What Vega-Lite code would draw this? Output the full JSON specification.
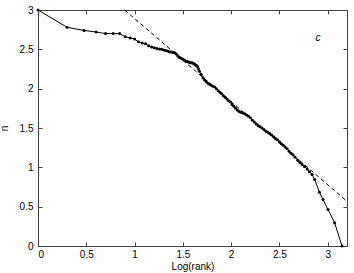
{
  "$schema": "https://vega.github.io/schema/vega-lite/v6.json",
  "width": 309,
  "height": 236,
  "autosize": "none",
  "padding": {"left": 38, "top": 10, "right": 7, "bottom": 27},
  "background": "white",
  "config": {
    "font": "Liberation Sans",
    "view": {"stroke": "#444", "strokeWidth": 1},
    "axis": {"grid": false, "domain": false, "tickColor": "#444", "tickSize": -4, "labelFont": "Liberation Sans", "labelFontSize": 10, "labelColor": "black", "titleFont": "Liberation Sans", "titleFontSize": 10, "titleFontWeight": "normal", "titleColor": "black", "format": "~g"}
  },
  "datasets": {
    "curve": [
      {"x": 0, "n": 3.0}, {"x": 0.301, "n": 2.78}, {"x": 0.477, "n": 2.74}, {"x": 0.602, "n": 2.72},
      {"x": 0.699, "n": 2.70}, {"x": 0.778, "n": 2.70}, {"x": 0.845, "n": 2.70}, {"x": 0.903, "n": 2.66},
      {"x": 0.954, "n": 2.645}, {"x": 1.0, "n": 2.63}, {"x": 1.041, "n": 2.595}, {"x": 1.079, "n": 2.58},
      {"x": 1.114, "n": 2.57}, {"x": 1.146, "n": 2.545}, {"x": 1.176, "n": 2.53}, {"x": 1.204, "n": 2.52},
      {"x": 1.23, "n": 2.51}, {"x": 1.255, "n": 2.505}, {"x": 1.279, "n": 2.5}, {"x": 1.301, "n": 2.49},
      {"x": 1.322, "n": 2.485}, {"x": 1.342, "n": 2.48}, {"x": 1.362, "n": 2.47}, {"x": 1.38, "n": 2.465},
      {"x": 1.398, "n": 2.46}, {"x": 1.415, "n": 2.455}, {"x": 1.431, "n": 2.44}, {"x": 1.447, "n": 2.42},
      {"x": 1.462, "n": 2.4}, {"x": 1.477, "n": 2.39}, {"x": 1.491, "n": 2.38}, {"x": 1.505, "n": 2.37},
      {"x": 1.519, "n": 2.36}, {"x": 1.531, "n": 2.35}, {"x": 1.544, "n": 2.345}, {"x": 1.556, "n": 2.34},
      {"x": 1.568, "n": 2.335}, {"x": 1.58, "n": 2.33}, {"x": 1.591, "n": 2.33}, {"x": 1.602, "n": 2.325},
      {"x": 1.613, "n": 2.32}, {"x": 1.623, "n": 2.31}, {"x": 1.633, "n": 2.3}, {"x": 1.643, "n": 2.29},
      {"x": 1.653, "n": 2.28}, {"x": 1.662, "n": 2.25}, {"x": 1.672, "n": 2.22}, {"x": 1.69, "n": 2.18},
      {"x": 1.708, "n": 2.14}, {"x": 1.725, "n": 2.11}, {"x": 1.742, "n": 2.09}, {"x": 1.76, "n": 2.07},
      {"x": 1.778, "n": 2.055}, {"x": 1.795, "n": 2.045}, {"x": 1.812, "n": 2.03}, {"x": 1.83, "n": 2.02},
      {"x": 1.848, "n": 2.0}, {"x": 1.866, "n": 1.975}, {"x": 1.884, "n": 1.955}, {"x": 1.902, "n": 1.935},
      {"x": 1.92, "n": 1.91}, {"x": 1.938, "n": 1.89}, {"x": 1.956, "n": 1.87}, {"x": 1.974, "n": 1.845},
      {"x": 1.992, "n": 1.83}, {"x": 2.01, "n": 1.8}, {"x": 2.028, "n": 1.775}, {"x": 2.046, "n": 1.75},
      {"x": 2.064, "n": 1.73}, {"x": 2.082, "n": 1.71}, {"x": 2.1, "n": 1.7}, {"x": 2.12, "n": 1.69},
      {"x": 2.14, "n": 1.68}, {"x": 2.16, "n": 1.665}, {"x": 2.18, "n": 1.65}, {"x": 2.2, "n": 1.63},
      {"x": 2.22, "n": 1.6}, {"x": 2.24, "n": 1.575}, {"x": 2.26, "n": 1.55}, {"x": 2.28, "n": 1.53},
      {"x": 2.3, "n": 1.515}, {"x": 2.32, "n": 1.5}, {"x": 2.34, "n": 1.48}, {"x": 2.36, "n": 1.46},
      {"x": 2.38, "n": 1.445}, {"x": 2.4, "n": 1.43}, {"x": 2.42, "n": 1.41}, {"x": 2.44, "n": 1.39},
      {"x": 2.46, "n": 1.37}, {"x": 2.48, "n": 1.35}, {"x": 2.5, "n": 1.325}, {"x": 2.52, "n": 1.3},
      {"x": 2.54, "n": 1.28}, {"x": 2.56, "n": 1.26}, {"x": 2.58, "n": 1.235}, {"x": 2.6, "n": 1.205},
      {"x": 2.62, "n": 1.18}, {"x": 2.64, "n": 1.16}, {"x": 2.66, "n": 1.13}, {"x": 2.69, "n": 1.09},
      {"x": 2.712, "n": 1.06}, {"x": 2.735, "n": 1.035}, {"x": 2.76, "n": 1.01}, {"x": 2.787, "n": 0.98},
      {"x": 2.812, "n": 0.945}, {"x": 2.838, "n": 0.91}, {"x": 2.866, "n": 0.845}, {"x": 2.914, "n": 0.684},
      {"x": 2.952, "n": 0.59}, {"x": 3.003, "n": 0.464}, {"x": 3.072, "n": 0.295}, {"x": 3.148, "n": 0.0}
    ],
    "fit": [{"x": 0.897, "n": 3.0}, {"x": 3.2, "n": 0.568}],
    "label": [{"x": 2.9, "n": 2.65, "t": "c"}]
  },
  "layer": [
    {
      "data": {"name": "fit"},
      "mark": {"type": "line", "color": "black", "strokeWidth": 1, "strokeDash": [4, 3]},
      "encoding": {
        "x": {"field": "x", "type": "quantitative", "scale": {"domain": [0, 3.2], "nice": false}, "axis": {"orient": "bottom", "title": "Log(rank)", "values": [0, 0.5, 1, 1.5, 2, 2.5, 3], "labelPadding": 7, "titlePadding": 2}},
        "y": {"field": "n", "type": "quantitative", "scale": {"domain": [0, 3], "nice": false}, "axis": {"orient": "left", "title": "n", "values": [0, 0.5, 1, 1.5, 2, 2.5, 3], "labelPadding": 9, "titlePadding": 10}}
      }
    },
    {
      "data": {"name": "curve"},
      "mark": {"type": "line", "color": "black", "strokeWidth": 1, "point": {"filled": true, "color": "black", "size": 9}},
      "encoding": {
        "x": {"field": "x", "type": "quantitative", "axis": null},
        "y": {"field": "n", "type": "quantitative", "axis": null}
      }
    },
    {
      "data": {"name": "fit"},
      "mark": {"type": "point", "opacity": 0},
      "encoding": {
        "x": {"field": "x", "type": "quantitative", "axis": {"orient": "top", "labels": false, "title": null, "values": [0, 0.5, 1, 1.5, 2, 2.5, 3]}},
        "y": {"field": "n", "type": "quantitative", "axis": {"orient": "right", "labels": false, "title": null, "values": [0, 0.5, 1, 1.5, 2, 2.5, 3]}}
      }
    },
    {
      "data": {"name": "label"},
      "mark": {"type": "text", "fontStyle": "italic", "fontSize": 10, "color": "black"},
      "encoding": {
        "x": {"field": "x", "type": "quantitative", "axis": null},
        "y": {"field": "n", "type": "quantitative", "axis": null},
        "text": {"field": "t"}
      }
    }
  ],
  "resolve": {"axis": {"x": "independent", "y": "independent"}}
}
